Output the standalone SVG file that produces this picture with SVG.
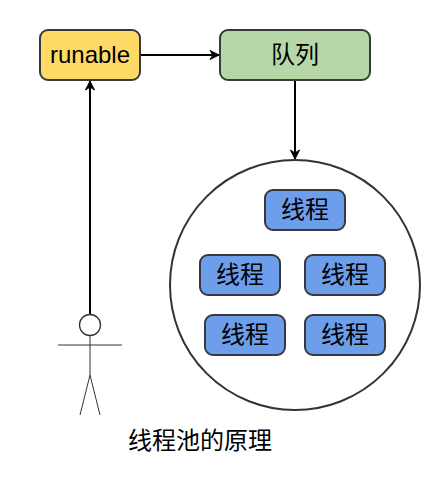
<svg xmlns="http://www.w3.org/2000/svg" width="440" height="485" viewBox="0 0 440 485">
  <style>
    .box { stroke: #36393d; stroke-width: 2; }
    .thread { fill: #6d9eeb; }
    .t { font-family: "Liberation Sans", "Noto Sans CJK SC", sans-serif; font-size: 24px; fill: #000; text-anchor: middle; }
    .c { fill: none; stroke: #000; stroke-width: 2; }
    .a { fill: none; stroke: #333; stroke-width: 1; }
  </style>
  <defs>
    <marker id="arrow" markerUnits="userSpaceOnUse" markerWidth="14" markerHeight="14" refX="11" refY="7" orient="auto">
      <path d="M2 2.500 L11 7 L2 11.500 L5 7 Z" fill="#000" stroke="#000" stroke-width="1"/>
    </marker>
  </defs>
  <rect width="440" height="485" fill="#fff"/>
  <g id="pool">
    <circle cx="295" cy="285" r="125" fill="#fff" stroke="#333" stroke-width="2"/>
  </g>
  <g id="connectors">
    <path class="c" d="M141 55 H219" marker-end="url(#arrow)"/>
    <path class="c" d="M295 81 V159" marker-end="url(#arrow)"/>
    <path class="c" d="M90 315 V81" marker-end="url(#arrow)"/>
  </g>
  <g id="runable">
    <rect class="box" x="40" y="30" width="100" height="50" rx="8" fill="#ffd966"/>
    <text class="t" x="90" y="63">runable</text>
  </g>
  <g id="queue">
    <rect class="box" x="220" y="30" width="150" height="50" rx="8" fill="#b6d7a8"/>
    <text class="t" x="295" y="63">队列</text>
  </g>
  <g id="thread1">
    <rect class="box thread" x="265" y="190" width="80" height="40" rx="8"/>
    <text class="t" x="305" y="218">线程</text>
  </g>
  <g id="thread2">
    <rect class="box thread" x="200" y="255" width="80" height="40" rx="8"/>
    <text class="t" x="240" y="283">线程</text>
  </g>
  <g id="thread3">
    <rect class="box thread" x="305" y="255" width="80" height="40" rx="8"/>
    <text class="t" x="345" y="283">线程</text>
  </g>
  <g id="thread4">
    <rect class="box thread" x="205" y="315" width="80" height="40" rx="8"/>
    <text class="t" x="245" y="343">线程</text>
  </g>
  <g id="thread5">
    <rect class="box thread" x="305" y="315" width="80" height="40" rx="8"/>
    <text class="t" x="345" y="343">线程</text>
  </g>
  <g id="actor">
    <circle cx="90" cy="325" r="10.500" fill="#fff" stroke="#333" stroke-width="1.300"/>
    <path class="a" d="M90 335.500 V375 M58 345 H122 M80 415 L90 375 L100 415"/>
  </g>
  <g id="caption">
    <text class="t" x="200" y="449">线程池的原理</text>
  </g>
</svg>
